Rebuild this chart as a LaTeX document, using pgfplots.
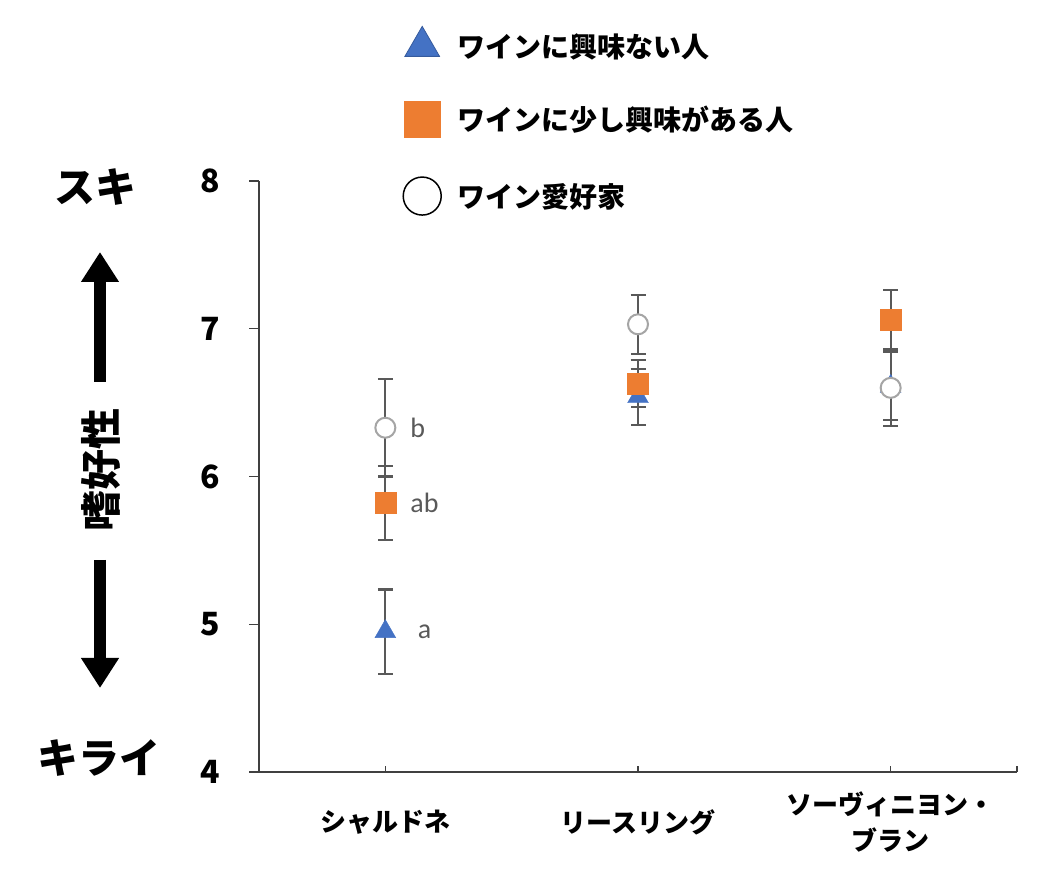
\documentclass[border=0pt]{standalone}
\usepackage{fontspec}
\setmainfont{Noto Sans CJK JP}
\newfontfamily\latin{Carlito}
\usepackage{pgfplots}
\pgfplotsset{compat=1.18}
\usetikzlibrary{arrows.meta}
\definecolor{cblue}{HTML}{4472C4}
\definecolor{corange}{HTML}{ED7D31}
\definecolor{cgray}{HTML}{A5A5A5}
\definecolor{egray}{HTML}{595959}
\definecolor{agray}{HTML}{595959}
\definecolor{axgray}{HTML}{404040}

\pgfplotstableread{
x y e
0 4.95 0.285
1 6.54 0.19
2 6.61 0.23
}\nointerest
\pgfplotstableread{
x y e
0 5.82 0.25
1 6.63 0.16
2 7.06 0.20
}\littleinterest
\pgfplotstableread{
x y e
0 6.33 0.33
1 7.03 0.20
2 6.60 0.26
}\lover

\begin{document}
\begin{tikzpicture}[x=1pt,y=1pt]
\path[use as bounding box] (0,0) rectangle (1042,876);
\begin{axis}[
  at={(259pt,104pt)}, anchor=south west,
  scale only axis, width=758pt, height=591pt,
  xmin=-0.5, xmax=2.5, ymin=4, ymax=8,
  axis lines=left,
  axis line style={-, draw=axgray, line width=1.5pt},
  clip=false,
  xtick={0,1,2,2.5},
  xticklabels={シャルドネ,リースリング,{ソーヴィニヨン・\\ブラン},{}},
  ytick={4,5,6,7,8},
  major tick length=10pt,
  ytick align=outside,
  xtick align=inside,
  xtick style={draw=axgray, line width=1.5pt, /pgfplots/major tick length=6pt},
  ytick style={draw=axgray, line width=1.5pt},
  /pgf/number format/assume math mode=true,
  yticklabel style={font=\fontsize{32}{36}\selectfont\bfseries, anchor=center, xshift=-39pt},
  xticklabel style={font=\fontsize{26}{36}\selectfont\bfseries, align=center, anchor=center, yshift=-50pt},
  legend image code/.code={\draw[#1] plot coordinates {(0pt,0pt)};},
  legend cell align=left,
  legend style={draw=none, fill=none, inner sep=0pt,
    at={(0.19,1.262)}, anchor=north west,
    font=\fontsize{28}{32}\selectfont\bfseries,
    nodes={inner xsep=16pt},
    row sep=40pt},
]
\addlegendimage{only marks, mark=triangle*, mark size=20pt, mark options={fill=cblue, draw=cblue!80!black, line width=0.8pt}}
\addlegendentry{ワインに興味ない人}
\addlegendimage{only marks, mark=square*, mark size=18pt, mark options={fill=corange, draw=corange}}
\addlegendentry{ワインに少し興味がある人}
\addlegendimage{only marks, mark=o, mark size=19pt, mark options={draw=black, line width=1.5pt}}
\addlegendentry{ワイン愛好家}

\addplot[forget plot, only marks, mark=triangle*, mark size=12pt,
  mark options={fill=cblue, draw=cblue},
  error bars/.cd, y dir=both, y explicit,
  error bar style={line width=2.2pt, draw=egray},
  error mark options={rotate=90, mark size=7.5pt, line width=2.2pt, draw=egray}]
  table[x=x, y=y, y error=e] {\nointerest};
\addplot[forget plot, only marks, mark=square*, mark size=10.5pt,
  mark options={fill=corange, draw=corange},
  error bars/.cd, y dir=both, y explicit,
  error bar style={line width=2.2pt, draw=egray},
  error mark options={rotate=90, mark size=7.5pt, line width=2.2pt, draw=egray}]
  table[x=x, y=y, y error=e] {\littleinterest};
\addplot[forget plot, only marks, mark=*, mark size=10pt,
  mark options={fill=white, draw=cgray, line width=2pt},
  error bars/.cd, y dir=both, y explicit,
  error bar style={line width=2.2pt, draw=egray},
  error mark options={rotate=90, mark size=7.5pt, line width=2.2pt, draw=egray}]
  table[x=x, y=y, y error=e] {\lover};

\node[anchor=west, text=agray, font=\latin\fontsize{28}{30}\selectfont] at (axis cs:0.085,6.33) {b};
\node[anchor=west, text=agray, font=\latin\fontsize{28}{30}\selectfont] at (axis cs:0.085,5.82) {ab};
\node[anchor=west, text=agray, font=\latin\fontsize{28}{30}\selectfont] at (axis cs:0.115,4.95) {a};
\end{axis}

\node[font=\fontsize{41}{44}\selectfont\bfseries] at (95,689) {スキ};
\node[font=\fontsize{41}{44}\selectfont\bfseries] at (99,118) {キライ};
\node[font=\fontsize{41}{44}\selectfont\bfseries, rotate=90] at (101,406) {嗜好性};
\draw[line width=12pt, -{Triangle[width=36pt,length=30pt]}] (100,494) -- (100,624);
\draw[line width=12pt, -{Triangle[width=36pt,length=30pt]}] (100,316) -- (100,188);
\end{tikzpicture}
\end{document}
